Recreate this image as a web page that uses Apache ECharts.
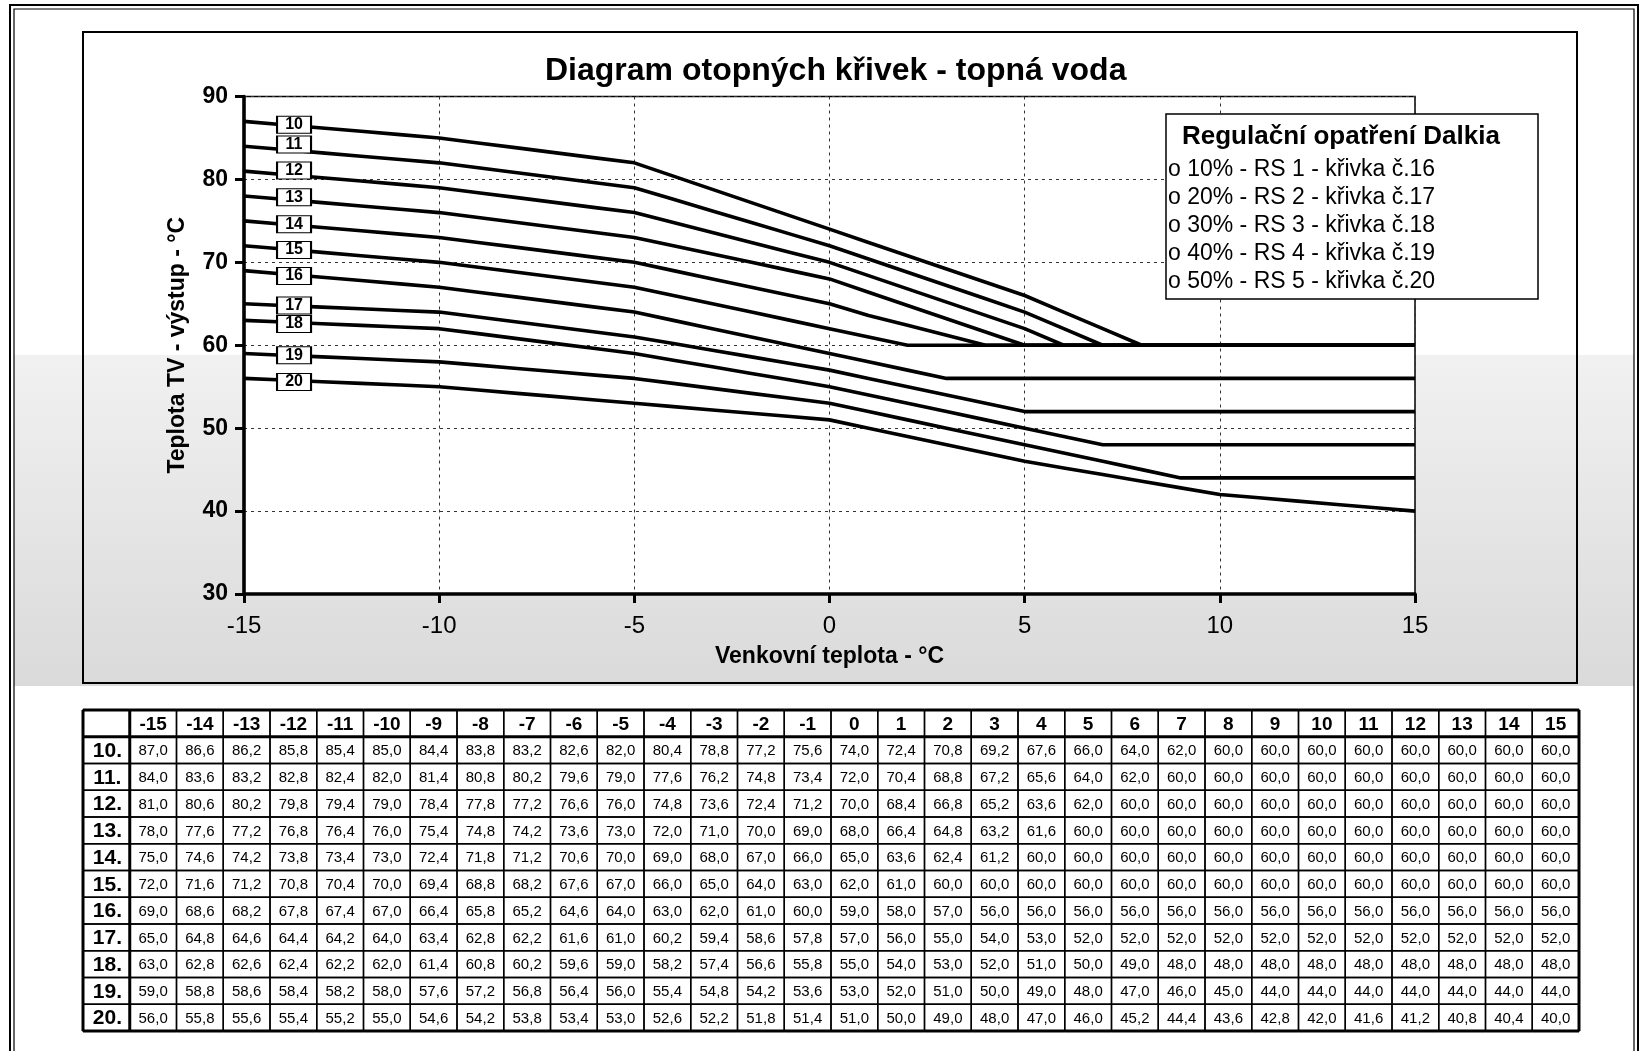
<!DOCTYPE html>
<html><head><meta charset="utf-8">
<script src="https://cdn.jsdelivr.net/npm/echarts@6/dist/echarts.min.js"></script>
<style>html,body{margin:0;padding:0;background:#fff}#c{width:1643px;height:1051px}</style>
</head><body><div id="c"></div>
<script>
// ---------- DATA ----------
const outdoorTemps = [-15,-14,-13,-12,-11,-10,-9,-8,-7,-6,-5,-4,-3,-2,-1,0,1,2,3,4,5,6,7,8,9,10,11,12,13,14,15];
const curveNames = ['10','11','12','13','14','15','16','17','18','19','20'];
const curve10 = [87.0,86.6,86.2,85.8,85.4,85.0,84.4,83.8,83.2,82.6,82.0,80.4,78.8,77.2,75.6,74.0,72.4,70.8,69.2,67.6,66.0,64.0,62.0,60.0,60.0,60.0,60.0,60.0,60.0,60.0,60.0];
const curve11 = [84.0,83.6,83.2,82.8,82.4,82.0,81.4,80.8,80.2,79.6,79.0,77.6,76.2,74.8,73.4,72.0,70.4,68.8,67.2,65.6,64.0,62.0,60.0,60.0,60.0,60.0,60.0,60.0,60.0,60.0,60.0];
const curve12 = [81.0,80.6,80.2,79.8,79.4,79.0,78.4,77.8,77.2,76.6,76.0,74.8,73.6,72.4,71.2,70.0,68.4,66.8,65.2,63.6,62.0,60.0,60.0,60.0,60.0,60.0,60.0,60.0,60.0,60.0,60.0];
const curve13 = [78.0,77.6,77.2,76.8,76.4,76.0,75.4,74.8,74.2,73.6,73.0,72.0,71.0,70.0,69.0,68.0,66.4,64.8,63.2,61.6,60.0,60.0,60.0,60.0,60.0,60.0,60.0,60.0,60.0,60.0,60.0];
const curve14 = [75.0,74.6,74.2,73.8,73.4,73.0,72.4,71.8,71.2,70.6,70.0,69.0,68.0,67.0,66.0,65.0,63.6,62.4,61.2,60.0,60.0,60.0,60.0,60.0,60.0,60.0,60.0,60.0,60.0,60.0,60.0];
const curve15 = [72.0,71.6,71.2,70.8,70.4,70.0,69.4,68.8,68.2,67.6,67.0,66.0,65.0,64.0,63.0,62.0,61.0,60.0,60.0,60.0,60.0,60.0,60.0,60.0,60.0,60.0,60.0,60.0,60.0,60.0,60.0];
const curve16 = [69.0,68.6,68.2,67.8,67.4,67.0,66.4,65.8,65.2,64.6,64.0,63.0,62.0,61.0,60.0,59.0,58.0,57.0,56.0,56.0,56.0,56.0,56.0,56.0,56.0,56.0,56.0,56.0,56.0,56.0,56.0];
const curve17 = [65.0,64.8,64.6,64.4,64.2,64.0,63.4,62.8,62.2,61.6,61.0,60.2,59.4,58.6,57.8,57.0,56.0,55.0,54.0,53.0,52.0,52.0,52.0,52.0,52.0,52.0,52.0,52.0,52.0,52.0,52.0];
const curve18 = [63.0,62.8,62.6,62.4,62.2,62.0,61.4,60.8,60.2,59.6,59.0,58.2,57.4,56.6,55.8,55.0,54.0,53.0,52.0,51.0,50.0,49.0,48.0,48.0,48.0,48.0,48.0,48.0,48.0,48.0,48.0];
const curve19 = [59.0,58.8,58.6,58.4,58.2,58.0,57.6,57.2,56.8,56.4,56.0,55.4,54.8,54.2,53.6,53.0,52.0,51.0,50.0,49.0,48.0,47.0,46.0,45.0,44.0,44.0,44.0,44.0,44.0,44.0,44.0];
const curve20 = [56.0,55.8,55.6,55.4,55.2,55.0,54.6,54.2,53.8,53.4,53.0,52.6,52.2,51.8,51.4,51.0,50.0,49.0,48.0,47.0,46.0,45.2,44.4,43.6,42.8,42.0,41.6,41.2,40.8,40.4,40.0];
const curves = [curve10,curve11,curve12,curve13,curve14,curve15,curve16,curve17,curve18,curve19,curve20];
const legendTitle = 'Regulační opatření Dalkia';
const legendLines = ['o 10% - RS 1 - křivka č.16','o 20% - RS 2 - křivka č.17','o 30% - RS 3 - křivka č.18','o 40% - RS 4 - křivka č.19','o 50% - RS 5 - křivka č.20'];

// ---------- STYLE ----------
const FONT = '"Liberation Sans", Arial, Helvetica, sans-serif';
const labelDy = [0,-5,-4,-2,0,1,2,0,2,0,2];

const chart = echarts.init(document.getElementById('c'), null, {renderer:'canvas'});

const lineSeries = curves.map((vals, i) => ({
  type:'line', name: curveNames[i], xAxisIndex:0, yAxisIndex:0,
  data: outdoorTemps.map((x, j) => [x, vals[j]]),
  showSymbol:false, symbol:'none',
  lineStyle:{color:'#000', width:3.6},
  z:3,
  markPoint:{
    z:6, animation:false,
    symbol:'rect', symbolSize:[34,17], symbolOffset:[11, labelDy[i]],
    itemStyle:{color:'#fff', borderColor:'#000', borderWidth:1.5},
    label:{show:true, position:'inside', formatter: curveNames[i], color:'#000', fontWeight:'bold', fontSize:16, fontFamily:FONT},
    data:[{coord:[outdoorTemps[1], vals[1]]}]
  }
}));

// table cells
const fmt = v => v.toFixed(1).replace('.', ',');
const tableCells = [];
tableCells.push({col:0,row:0,text:'',kind:'corner'});
outdoorTemps.forEach((x, c) => tableCells.push({col:c+1,row:0,text:String(x),kind:'head'}));
curves.forEach((vals, r) => {
  tableCells.push({col:0,row:r+1,text:curveNames[r]+'.',kind:'rowhead'});
  vals.forEach((v, c) => tableCells.push({col:c+1,row:r+1,text:fmt(v),kind:'val'}));
});
const nCols = outdoorTemps.length + 1, nRows = curves.length + 1;
const tableColCats = [''].concat(outdoorTemps.map(String));
const tableRowCats = ['hdr'].concat(curveNames);

function renderCell(params, api) {
  const cell = tableCells[params.dataIndex];
  const p = api.coord([cell.col, cell.row]);
  const s = api.size([1, 1]);
  const w = s[0], h = s[1], x = p[0]-w/2, y = p[1]-h/2;
  let font = '15px ' + FONT;
  if (cell.kind === 'head') font = 'bold 19px ' + FONT;
  if (cell.kind === 'rowhead') font = 'bold 21px ' + FONT;
  const ch = [
    {type:'rect', shape:{x:x, y:y, width:w, height:h}, style:{fill:null, stroke:'#000', lineWidth:1.4}, z2:1},
    {type:'text', style:{x:x+w/2 + (cell.kind==='rowhead'?1:0), y:y+h/2+1, text:cell.text, align:'center', verticalAlign:'middle', font:font, fill:'#000'}, z2:2}
  ];
  const thick = (x1,y1,x2,y2) => ch.push({type:'line', shape:{x1,y1,x2,y2}, style:{stroke:'#000', lineWidth:3}, z2:5});
  if (cell.row === 0) { thick(x,y,x+w,y); thick(x,y+h,x+w,y+h); }
  if (cell.row === nRows-1) thick(x,y+h,x+w,y+h);
  if (cell.col === 0) { thick(x,y,x,y+h); thick(x+w,y,x+w,y+h); }
  if (cell.col === nCols-1) thick(x+w,y,x+w,y+h);
  return {type:'group', children:ch};
}

const option = {
  animation:false,
  backgroundColor:'#fff',
  title:{
    text:'Diagram otopných křivek - topná voda',
    left:545, top:55, padding:0,
    textStyle:{fontFamily:FONT, fontWeight:'bold', fontSize:32, color:'#000'}
  },
  graphic:[
    // scanned gray band
    {type:'rect', z:-1, silent:true, shape:{x:14, y:355, width:1620, height:331},
     style:{fill:new echarts.graphic.LinearGradient(0,0,0,1,[{offset:0,color:'#f1f1f1'},{offset:1,color:'#dadada'}])}},
    // page double frame
    {type:'rect', z:20, silent:true, shape:{x:10, y:5, width:1628, height:1100}, style:{fill:null, stroke:'#000', lineWidth:2}},
    {type:'rect', z:20, silent:true, shape:{x:14, y:9, width:1620, height:1100}, style:{fill:null, stroke:'#000', lineWidth:1.2}},
    // chart box
    {type:'rect', z:20, silent:true, shape:{x:83, y:32, width:1494, height:651}, style:{fill:null, stroke:'#000', lineWidth:2}},
    // legend box
    {type:'group', z:30, children:[
      {type:'rect', z:30, shape:{x:1166, y:114, width:372, height:185}, style:{fill:'#fff', stroke:'#000', lineWidth:1.5}},
      {type:'text', z:31, style:{x:1182, y:137, text:legendTitle, verticalAlign:'middle', font:'bold 26px '+FONT, fill:'#000'}},
    ].concat(legendLines.map((t, k) => ({type:'text', z:31, style:{x:1168, y:170 + 28*k, text:t, verticalAlign:'middle', font:'23px '+FONT, fill:'#000'}})))}
  ],
  grid:[
    {left:244, right:228, top:96.5, bottom:457, show:true, backgroundColor:'#fff', borderColor:'#000', borderWidth:1.5},
    {left:83, right:64, top:710, bottom:20, show:false}
  ],
  xAxis:[
    {type:'value', gridIndex:0, min:-15, max:15, interval:5,
     name:'Venkovní teplota - °C', nameLocation:'middle', nameGap:51,
     nameTextStyle:{fontFamily:FONT, fontWeight:'bold', fontSize:23, color:'#000'},
     axisLine:{show:true, onZero:false, lineStyle:{color:'#000', width:3.6}},
     axisTick:{show:true, length:9, lineStyle:{color:'#000', width:3}},
     axisLabel:{fontFamily:FONT, fontSize:24, color:'#000', margin:20},
     splitLine:{show:true, lineStyle:{color:'#333', width:1, type:[3,4]}}},
    {type:'category', gridIndex:1, data:tableColCats, show:false}
  ],
  yAxis:[
    {type:'value', gridIndex:0, min:30, max:90, interval:10,
     name:'Teplota TV - výstup - °C', nameLocation:'middle', nameGap:55, nameRotate:90,
     nameTextStyle:{fontFamily:FONT, fontWeight:'bold', fontSize:23, color:'#000'},
     axisLine:{show:true, onZero:false, lineStyle:{color:'#000', width:3.6}},
     axisTick:{show:true, length:9, lineStyle:{color:'#000', width:3}},
     axisLabel:{fontFamily:FONT, fontSize:23, fontWeight:'bold', color:'#000', margin:16},
     splitLine:{show:true, lineStyle:{color:'#333', width:1, type:[3,4]}}},
    {type:'category', gridIndex:1, data:tableRowCats, inverse:true, show:false}
  ],
  series: lineSeries.concat([{
    type:'custom', xAxisIndex:1, yAxisIndex:1,
    data: tableCells.map(c => [c.col, c.row]),
    renderItem: renderCell, clip:false
  }])
};
chart.setOption(option);
</script>
</body></html>
